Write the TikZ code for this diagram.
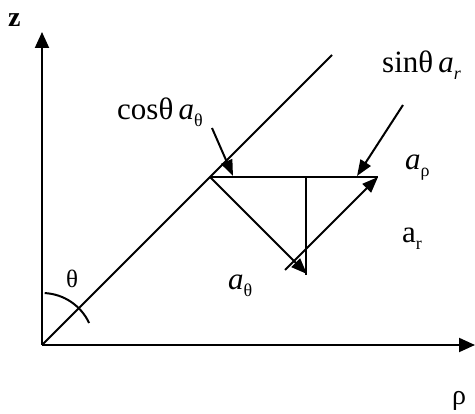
\documentclass[tikz,border=0pt]{standalone}
\usepackage{fontspec}
\setmainfont{Liberation Serif}
\usetikzlibrary{arrows.meta}
\newcommand\sbx[1]{\raisebox{-0.22em}{\fontsize{18}{18}\selectfont #1}}
\begin{document}
\begin{tikzpicture}[x=1pt,y=-1pt,
  ln/.style={line width=2pt},
  arr/.style={ln,-{Triangle[length=16pt,width=12pt]}},
  axarr/.style={ln,-{Triangle[length=16pt,width=14pt]}},
  lbl/.style={inner sep=0pt,anchor=base west,font=\fontsize{31}{33}\selectfont}]
\useasboundingbox (0,0) rectangle (475,414);
\coordinate (O) at (42,345);
\coordinate (Z) at (42,32);
\coordinate (Rho) at (475,345);
\coordinate (D) at (332,55);
\coordinate (P) at (210,177);
\coordinate (R) at (378,177);
\coordinate (V1) at (306,177);
\coordinate (V2) at (306,275);
\coordinate (T) at (307,274);
\coordinate (S) at (285,270);
\coordinate (C1) at (212,128);
\coordinate (C2) at (233,176);
\coordinate (S1) at (403,105);
\coordinate (S2) at (357,176);
% axes
\draw[axarr] (O) -- (Z);
\draw[axarr] (O) -- (Rho);
\draw[ln] (O) -- (D);
% vectors
\draw[ln] (P) -- (R);
\draw[ln] (V1) -- (V2);
\draw[arr] (P) -- (T);
\draw[arr] (S) -- (R);
\draw[arr] (C1) -- (C2);
\draw[arr] (S1) -- (S2);
% angle arc
\draw[ln] ([shift={(-87:52)}]O) arc[start angle=-87,end angle=-25,radius=52];
% labels
\node[lbl,font=\fontsize{28}{30}\selectfont\bfseries] (zl) at (8,27) {z};
\node[lbl,font=\fontsize{28}{30}\selectfont] (rl) at (452,405) {ρ};
\node[lbl,font=\fontsize{25}{27}\selectfont] (th) at (66,288) {θ};
\node[lbl] (cl) at (117,120) {cosθ\,\textit{a}\sbx{θ}};
\node[lbl] (sl) at (382,73) {sinθ\,\textit{a}\sbx{\textit{r}}};
\node[lbl] (ap) at (405,170) {\textit{a}\sbx{ρ}};
\node[lbl] (ar) at (402,243) {a\sbx{r}};
\node[lbl] (at) at (228,290) {\textit{a}\sbx{θ}};
\end{tikzpicture}
\end{document}
